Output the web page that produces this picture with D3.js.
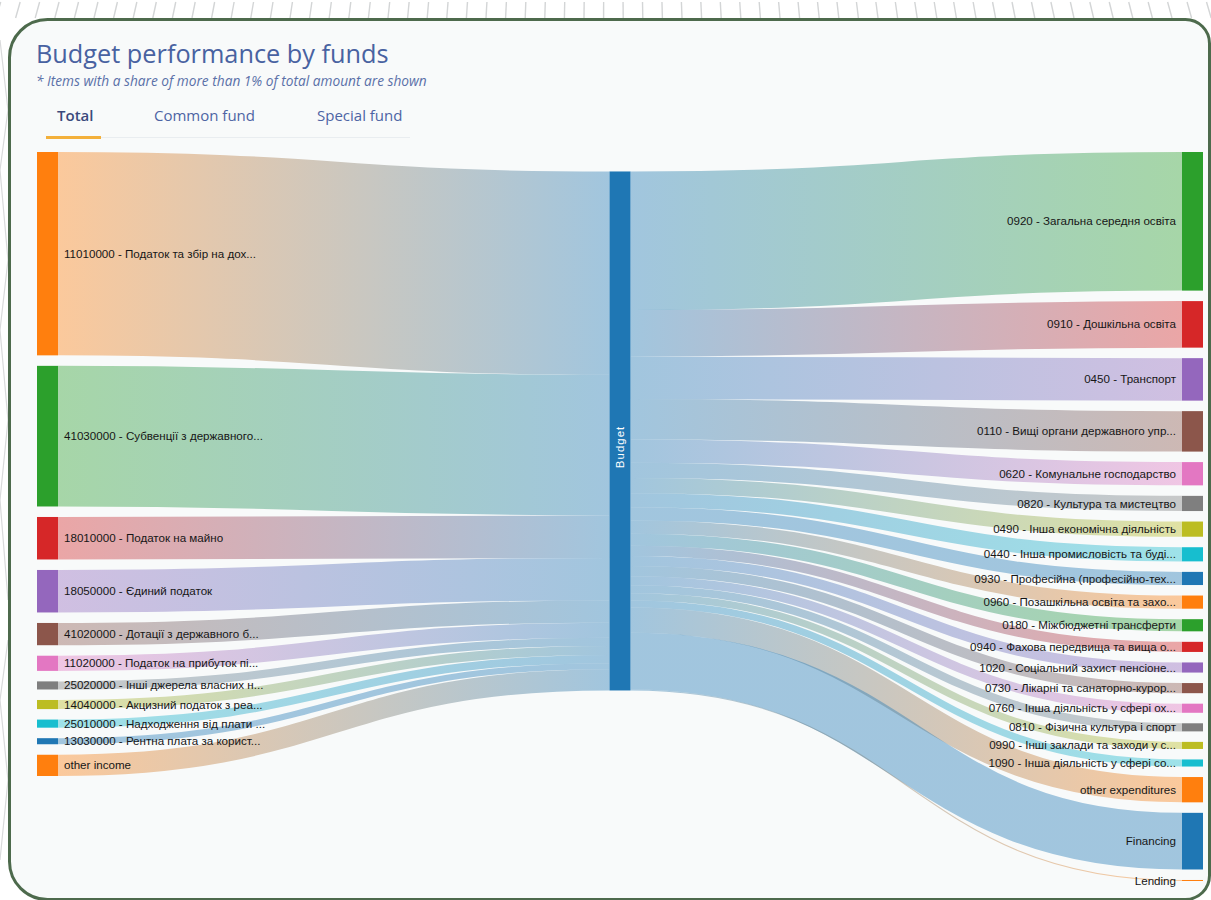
<!DOCTYPE html>
<html>
<head>
<meta charset="utf-8">
<script src="https://cdn.jsdelivr.net/npm/d3@7"></script>
<style>
  html, body { margin: 0; padding: 0; background: #ffffff; }
  svg { display: block; }
  .node-label { font-family: "Liberation Sans", Arial, sans-serif; font-size: 11.6px; fill: #161616; }
</style>
</head>
<body>
<svg id="chart" width="1211" height="900"></svg>
<script>
// --- data (relative amounts) ---
const incomeNames = [
    '11010000 - Податок та збір на дох...',
    '41030000 - Субвенції з державного...',
    '18010000 - Податок на майно',
    '18050000 - Єдиний податок',
    '41020000 - Дотації з державного б...',
    '11020000 - Податок на прибуток пі...',
    '25020000 - Інші джерела власних н...',
    '14040000 - Акцизний податок з реа...',
    '25010000 - Надходження від плати ...',
    '13030000 - Рентна плата за корист...',
    'other income'
];
const incomeValues = [201, 139, 42, 42, 22, 15, 8, 9, 8, 6, 21];

const expenseNames = [
    '0920 - Загальна середня освіта',
    '0910 - Дошкільна освіта',
    '0450 - Транспорт',
    '0110 - Вищі органи державного упр...',
    '0620 - Комунальне господарство',
    '0820 - Культура та мистецтво',
    '0490 - Інша економічна діяльність',
    '0440 - Інша промисловість та буді...',
    '0930 - Професійна (професійно-тех...',
    '0960 - Позашкільна освіта та захо...',
    '0180 - Міжбюджетні трансферти',
    '0940 - Фахова передвища та вища о...',
    '1020 - Соціальний захист пенсіоне...',
    '0730 - Лікарні та санаторно-курор...',
    '0760 - Інша діяльність у сфері ох...',
    '0810 - Фізична культура і спорт',
    '0990 - Інші заклади та заходи у с...',
    '1090 - Інша діяльність у сфері со...',
    'other expenditures',
    'Financing',
    'Lending'
];
const expenseValues = [137, 46, 42, 40, 23, 15, 15, 14, 13, 13, 12, 10, 10, 10, 9, 8, 7, 7, 25, 56, 1];

const hubName = 'Budget';
const tabLabels = ['Total', 'Common fund', 'Special fund'];

// --- layout constants ---
const W = 1211, H = 900;
const extent = { x0: 37, x1: 1203, y0: 152, y1: 881 };
const NODE_WIDTH = 21;
const NODE_PADDING = 10.5;

const svg = d3.select('#chart');

function drawBackground() {
    // radial hatch strokes above the card
    const hatch = svg.append('g').attr('stroke', '#d3d5d6').attr('stroke-width', 1.4);
    const cx = 605, cy = -2050;
    for (let x = -4; x < W + 10; x += 19.6) {
        const k = (x - cx) / (18 - cy);
        hatch.append('line')
            .attr('x1', x - k * 16).attr('y1', 2)
            .attr('x2', x).attr('y2', 18);
    }
    // faint curves on the left margin
    svg.append('path')
        .attr('d', 'M0,40 L8,110 L0,170 L8,260 L0,330 L8,420 L0,500 L8,600 M8,640 L0,700 L8,780 L0,860')
        .attr('fill', 'none')
        .attr('stroke', '#d9dadb')
        .attr('stroke-width', 1.2);

    // card
    const x0 = 9.5, y0 = 19.5, x1 = 1209.5, y1 = 899.5, rl = 38, rr = 24;
    const p = d3.path();
    p.moveTo(x0 + rl, y0);
    p.lineTo(x1 - rr, y0);
    p.arcTo(x1, y0, x1, y0 + rr, rr);
    p.lineTo(x1, y1 - rr);
    p.arcTo(x1, y1, x1 - rr, y1, rr);
    p.lineTo(x0 + rl, y1);
    p.arcTo(x0, y1, x0, y1 - rl, rl);
    p.lineTo(x0, y0 + rl);
    p.arcTo(x0, y0, x0 + rl, y0, rl);
    p.closePath();
    svg.append('path')
        .attr('d', p.toString())
        .attr('fill', '#f8fafa')
        .attr('stroke', '#4d6a4c')
        .attr('stroke-width', 3);
}

function drawHeader() {
    svg.append('text')
        .attr('x', 36).attr('y', 63)
        .attr('font-family', '"Open Sans", sans-serif')
        .attr('font-size', 25.3)
        .attr('fill', '#4862a1')
        .text('Budget performance by funds');

    svg.append('text')
        .attr('x', 36).attr('y', 86)
        .attr('font-family', '"Open Sans", sans-serif')
        .attr('font-style', 'italic')
        .attr('font-size', 13.7)
        .attr('fill', '#5a70a8')
        .text('* Items with a share of more than 1% of total amount are shown');

    svg.append('line')
        .attr('x1', 46).attr('x2', 410)
        .attr('y1', 137.5).attr('y2', 137.5)
        .attr('stroke', '#e9edf0')
        .attr('stroke-width', 1);

    const tabX = [57, 154, 317];
    tabLabels.forEach((label, i) => {
        svg.append('text')
            .attr('x', tabX[i]).attr('y', 121)
            .attr('font-family', '"Open Sans", sans-serif')
            .attr('font-size', 15)
            .attr('font-weight', i === 0 ? 600 : 400)
            .attr('fill', i === 0 ? '#3b4a7c' : '#4d64a4')
            .text(label);
    });

    svg.append('rect')
        .attr('x', 46).attr('y', 136)
        .attr('width', 55).attr('height', 3)
        .attr('fill', '#f3b03b');
}

function buildLayout() {
    const incomes = incomeNames.map((name, i) => ({ name, value: incomeValues[i], col: 0 }));
    const expenses = expenseNames.map((name, i) => ({ name, value: expenseValues[i], col: 2 }));
    const hub = { name: hubName, value: d3.sum(incomeValues), col: 1 };
    const columns = [incomes, [hub], expenses];

    // shared value -> pixel factor, limited by the fullest column
    const ky = d3.min(columns, c =>
        (extent.y1 - extent.y0 - (c.length - 1) * NODE_PADDING) / d3.sum(c, d => d.value));
    const size = d3.scaleLinear().domain([0, 1]).range([0, ky]);
    const colX = d3.scaleLinear().domain([0, 2]).range([extent.x0, extent.x1 - NODE_WIDTH]);

    columns.forEach(col => {
        let y = extent.y0;
        col.forEach(n => {
            n.x0 = colX(n.col);
            n.x1 = n.x0 + NODE_WIDTH;
            n.y0 = y;
            n.y1 = y + size(n.value);
            y = n.y1 + NODE_PADDING;
        });
    });

    // place the hub so incoming links run as straight as possible
    let cum = 0;
    const ideal = d3.sum(incomes, n => {
        const v = n.value * (n.y0 - size(cum));
        cum += n.value;
        return v;
    }) / hub.value;
    hub.y0 = ideal;
    hub.y1 = ideal + size(hub.value);

    const links = [];
    let off = 0;
    incomes.forEach(n => {
        const w = size(n.value);
        links.push({ source: n, target: hub, width: w, sy: n.y0 + w / 2, ty: hub.y0 + off + w / 2 });
        off += w;
    });
    off = 0;
    expenses.forEach(n => {
        const w = size(n.value);
        links.push({ source: hub, target: n, width: w, sy: hub.y0 + off + w / 2, ty: n.y0 + w / 2 });
        off += w;
    });

    return { nodes: [hub, ...incomes, ...expenses], links, hub };
}

function drawSankey() {
    const { nodes, links, hub } = buildLayout();

    // colours cycle through category10 in node order
    const colorOf = d3.scaleOrdinal(d3.schemeCategory10)
        .domain([hub.name, ...incomeNames, ...expenseNames.slice(0, 18), 'Financing', 'other expenditures']);
    const color = name => colorOf(name === 'Lending' ? 'other expenditures' : name);

    const defs = svg.append('defs');
    const linkPath = d3.linkHorizontal()
        .source(d => [d.source.x1, d.sy])
        .target(d => [d.target.x0, d.ty]);

    const linkG = svg.append('g').attr('fill', 'none').attr('stroke-opacity', 0.4);
    links.forEach((d, i) => {
        const id = 'grad' + i;
        const g = defs.append('linearGradient')
            .attr('id', id)
            .attr('gradientUnits', 'userSpaceOnUse')
            .attr('x1', d.source.x1).attr('x2', d.target.x0);
        g.append('stop').attr('offset', '0%').attr('stop-color', color(d.source.name));
        g.append('stop').attr('offset', '100%').attr('stop-color', color(d.target.name));

        linkG.append('path')
            .attr('d', linkPath(d))
            .attr('stroke', `url(#${id})`)
            .attr('stroke-width', Math.max(1, d.width));
    });

    svg.append('g')
        .selectAll('rect')
        .data(nodes)
        .join('rect')
        .attr('x', d => d.x0)
        .attr('y', d => d.y0)
        .attr('width', d => d.x1 - d.x0)
        .attr('height', d => Math.max(1, d.y1 - d.y0))
        .attr('fill', d => color(d.name));

    svg.append('g')
        .selectAll('text')
        .data(nodes.filter(d => d !== hub))
        .join('text')
        .attr('class', 'node-label')
        .attr('x', d => d.col === 0 ? d.x1 + 6 : d.x0 - 6)
        .attr('y', d => (d.y0 + d.y1) / 2)
        .attr('dy', '0.35em')
        .attr('text-anchor', d => d.col === 0 ? 'start' : 'end')
        .text(d => d.name);

    const hx = (hub.x0 + hub.x1) / 2;
    const hy = (hub.y0 + hub.y1) / 2 + 16;
    svg.append('text')
        .attr('transform', `translate(${hx},${hy}) rotate(-90)`)
        .attr('text-anchor', 'middle')
        .attr('dy', '0.35em')
        .attr('font-family', '"Liberation Sans", Arial, sans-serif')
        .attr('font-size', 11.5)
        .attr('letter-spacing', 1)
        .attr('fill', '#ffffff')
        .text(hub.name);
}

drawBackground();
drawHeader();
drawSankey();
</script>
</body>
</html>
